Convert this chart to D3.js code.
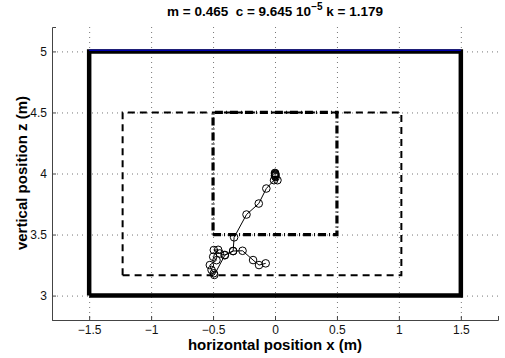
<!DOCTYPE html>
<html>
<head>
<meta charset="utf-8">
<script src="https://cdn.jsdelivr.net/npm/d3@7"></script>
<style>
  body { margin: 0; background: #fff; }
  svg { font-family: "Liberation Sans", Arial, sans-serif; }
</style>
</head>
<body>
<figure id="traj" style="margin:0"></figure>
<script>
// tick values
const xTicks = [-1.5, -1, -0.5, 0, 0.5, 1, 1.5];
const zTicks = [3, 3.5, 4, 4.5, 5];

// room outline, dashed region, dash-dot target box  [x0, x1, z0, z1]
const room = [-1.5, 1.5, 3, 5];
const dashedBox = [-1.23, 1.02, 3.167, 4.5];
const targetBox = [-0.5, 0.5, 3.5, 4.5];

// trajectory
const trajX = [0, 0.001, 0.002, 0.002, 0.001, 0, 0.005, 0.02, -0.008, -0.07, -0.131, -0.23, -0.33,
  -0.338, -0.405, -0.445, -0.494, -0.459, -0.499, -0.472, -0.526, -0.512, -0.494, -0.49,
  -0.405, -0.338, -0.262, -0.177, -0.129, -0.075];
const trajZ = [4.005, 4.0, 3.995, 3.99, 3.985, 3.98, 3.97, 3.945, 3.945, 3.877, 3.754, 3.664, 3.477,
  3.365, 3.333, 3.345, 3.373, 3.375, 3.318, 3.29, 3.25, 3.21, 3.183, 3.169,
  3.33, 3.365, 3.367, 3.291, 3.25, 3.264];

const W = 505, H = 358;
const m = { left: 52, right: 7, top: 27, bottom: 38 };

const svg = d3.select("figure#traj").append("svg")
  .attr("width", W).attr("height", H);

const x = d3.scaleLinear().domain([-1.8, 1.8]).range([m.left, W - m.right]);
const y = d3.scaleLinear().domain([2.8, 5.2]).range([H - m.bottom, m.top]);

// grid
const grid = svg.append("g").attr("stroke", "#777").attr("stroke-width", 1)
  .attr("stroke-dasharray", "1,4");
grid.selectAll(".gx").data(xTicks).enter().append("line")
  .attr("x1", d => x(d) + 0.5).attr("x2", d => x(d) + 0.5)
  .attr("y1", m.top).attr("y2", H - m.bottom);
grid.selectAll(".gy").data(zTicks).enter().append("line")
  .attr("y1", d => y(d) + 0.5).attr("y2", d => y(d) + 0.5)
  .attr("x1", m.left).attr("x2", W - m.right);

// axes (matlab style: inward ticks)
const fmt = d => (d < 0 ? "\u2212" : "") + Math.abs(d);
const xAxis = svg.append("g")
  .attr("transform", "translate(0," + (H - m.bottom) + ")")
  .call(d3.axisBottom(x).tickValues(xTicks).tickSize(-4).tickPadding(5).tickFormat(fmt));
const yAxis = svg.append("g")
  .attr("transform", "translate(" + m.left + ",0)")
  .call(d3.axisLeft(y).tickValues(zTicks).tickSize(-4).tickPadding(5).tickFormat(fmt));
[xAxis, yAxis].forEach(a => {
  a.select(".domain").attr("stroke", "#444");
  a.selectAll(".tick line").attr("stroke", "#444");
  a.selectAll("text").style("font-size", "12px").attr("fill", "#111");
});

function rectPath(b) {
  return [[b[0], b[2]], [b[1], b[2]], [b[1], b[3]], [b[0], b[3]], [b[0], b[2]]];
}
const line = d3.line().x(d => x(d[0])).y(d => y(d[1]));

// room outline
svg.append("path").attr("d", line(rectPath(room)))
  .attr("fill", "none").attr("stroke", "#000").attr("stroke-width", 4.5);
svg.append("line")
  .attr("x1", x(room[0])).attr("x2", x(room[1]))
  .attr("y1", y(room[3]) - 1.2).attr("y2", y(room[3]) - 1.2)
  .attr("stroke", "#0000b0").attr("stroke-width", 1.6);

// dashed region
svg.append("path").attr("d", line(rectPath(dashedBox)))
  .attr("fill", "none").attr("stroke", "#000").attr("stroke-width", 2)
  .attr("stroke-dasharray", "7,5");

// target box
svg.append("path").attr("d", line(rectPath(targetBox)))
  .attr("fill", "none").attr("stroke", "#000").attr("stroke-width", 3.2)
  .attr("stroke-dasharray", "8,3,1,3");

// trajectory
const pts = d3.zip(trajX, trajZ);
svg.append("path").attr("d", line(pts))
  .attr("fill", "none").attr("stroke", "#000").attr("stroke-width", 1);
svg.selectAll(".pt").data(pts).enter().append("circle")
  .attr("cx", d => x(d[0])).attr("cy", d => y(d[1])).attr("r", 3.8)
  .attr("fill", "none").attr("stroke", "#000").attr("stroke-width", 1);

// labels
const title = svg.append("text").attr("x", 275).attr("y", 16)
  .attr("text-anchor", "middle").style("font-size", "13.5px").style("font-weight", "bold")
  .style("white-space", "pre");
title.append("tspan").text("m = 0.465  c = 9.645 10");
title.append("tspan").attr("dy", -6).style("font-size", "10px").text("\u22125");
title.append("tspan").attr("dy", 6).text(" k = 1.179");

svg.append("text").attr("x", 275).attr("y", 350)
  .attr("text-anchor", "middle").style("font-size", "15px").style("font-weight", "bold")
  .text("horizontal position x (m)");
svg.append("text").attr("transform", "translate(27,173) rotate(-90)")
  .attr("text-anchor", "middle").style("font-size", "15px").style("font-weight", "bold")
  .text("vertical position z (m)");
</script>
</body>
</html>
